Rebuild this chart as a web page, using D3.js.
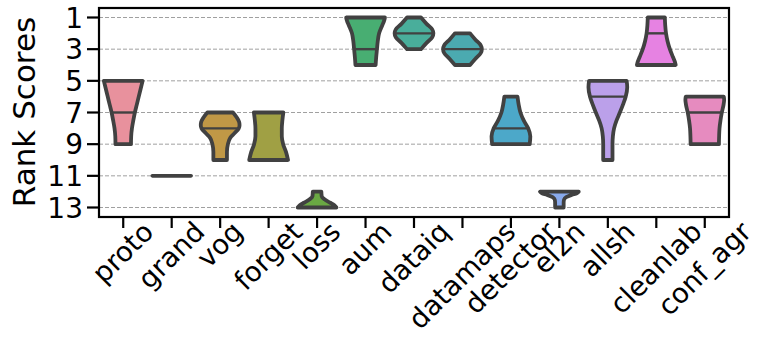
<!DOCTYPE html>
<html>
<head>
<meta charset="utf-8">
<script src="https://cdn.jsdelivr.net/npm/d3@7"></script>
<style>
  html, body { margin: 0; padding: 0; background: #fff; }
  svg { display: block; }
  text { font-family: "DejaVu Sans", sans-serif; fill: #000; }
</style>
</head>
<body>
<svg id="chart" width="761" height="337"></svg>
<script>
// ---- data ----
const categories = ["proto","grand","vog","forget","loss","aum","dataiq","datamaps","detector","el2n","allsh","cleanlab","conf_agr"];
const colors = ["#e8919d","#4a4a4a","#c09846","#a0a044","#6aa843","#48ae72","#49ae9b","#4baab0","#4ca8c9","#89aaec","#bba0ea","#e682e2","#e68bbf"];
const medians = [7, 11, 8, 7, 13, 3, 2, 3, 8, 12, 6, 2, 7];
// density profile of each violin: rank positions and relative widths
const profileRanks = [
  [5, 5.5, 6, 6.5, 7, 7.5, 8, 8.5, 9],
  [11],
  [7, 7.3, 7.6, 7.8, 8, 8.3, 8.6, 9, 9.5, 10],
  [7, 7.5, 8, 8.5, 9, 9.5, 10],
  [12, 12.3, 12.5, 12.7, 12.85, 13],
  [1, 1.2, 1.5, 2, 2.5, 3, 3.5, 4],
  [1, 1.4, 1.75, 2, 2.25, 2.6, 3],
  [2, 2.4, 2.75, 3, 3.25, 3.6, 4],
  [6, 6.5, 7, 7.5, 8, 8.5, 9],
  [12, 12.1, 12.2, 12.35, 12.5, 12.7, 13],
  [5, 5.4, 6, 6.5, 7, 7.5, 8, 8.5, 9, 10],
  [1, 1.5, 2, 2.5, 3, 3.5, 3.8, 4],
  [6, 6.2, 6.5, 7, 7.5, 8, 8.5, 9]
];
const profileWidths = [
  [1.0, 0.9, 0.8, 0.7, 0.6, 0.52, 0.45, 0.41, 0.4],
  [1.0],
  [0.66, 0.85, 0.98, 1.0, 0.96, 0.75, 0.52, 0.4, 0.35, 0.35],
  [0.76, 0.71, 0.68, 0.68, 0.75, 0.9, 1.0],
  [0.22, 0.24, 0.4, 0.68, 0.88, 1.0],
  [1.0, 0.96, 0.86, 0.7, 0.63, 0.59, 0.55, 0.52],
  [0.36, 0.65, 0.94, 1.0, 0.94, 0.65, 0.36],
  [0.39, 0.67, 0.94, 1.0, 0.94, 0.67, 0.39],
  [0.34, 0.4, 0.49, 0.66, 0.89, 1.0, 0.97],
  [1.0, 0.9, 0.65, 0.35, 0.24, 0.22, 0.22],
  [0.97, 1.0, 0.92, 0.78, 0.62, 0.45, 0.32, 0.26, 0.24, 0.24],
  [0.44, 0.46, 0.5, 0.58, 0.7, 0.86, 0.96, 1.0],
  [0.98, 1.0, 0.97, 0.88, 0.81, 0.76, 0.74, 0.73]
];
const yTicks = [1, 3, 5, 7, 9, 11, 13];
const yLabel = "Rank Scores";

// ---- layout ----
const plotL = 99, plotR = 729, plotT = 8, plotB = 217;
const svg = d3.select("#chart");
const x = d3.scaleBand().domain(categories).range([plotL, plotR]).padding(0);
const y = d3.scaleLinear().domain([0.4, 13.6]).range([plotT, plotB]);
const edge = "#414141";
const halfMax = x.bandwidth() * 0.8 / 2;

// grid
svg.append("g").selectAll("line").data(yTicks).join("line")
  .attr("x1", plotL).attr("x2", plotR)
  .attr("y1", d => y(d)).attr("y2", d => y(d))
  .attr("stroke", "#a0a0a0").attr("stroke-width", 1).attr("stroke-dasharray", "4,2");

// violins
const g = svg.append("g");
categories.forEach((c, i) => {
  const cx = x(c) + x.bandwidth() / 2;
  const rs = profileRanks[i], ws = profileWidths[i];
  if (rs.length === 1) {
    g.append("line")
      .attr("x1", cx - halfMax * ws[0]).attr("x2", cx + halfMax * ws[0])
      .attr("y1", y(rs[0])).attr("y2", y(rs[0]))
      .attr("stroke", edge).attr("stroke-width", 3.6).attr("stroke-linecap", "round");
    return;
  }
  const pts = rs.map((r, k) => [r, ws[k]]);
  const area = d3.area()
    .y(d => y(d[0]))
    .x0(d => cx - halfMax * d[1])
    .x1(d => cx + halfMax * d[1])
    .curve(d3.curveMonotoneY);
  g.append("path").attr("d", area(pts))
    .attr("fill", colors[i]).attr("stroke", edge)
    .attr("stroke-width", 3.8).attr("stroke-linejoin", "round");
  // median line
  const m = medians[i];
  const interp = d3.scaleLinear().domain(rs).range(ws).clamp(true);
  const hw = halfMax * interp(m);
  g.append("line")
    .attr("x1", cx - hw).attr("x2", cx + hw)
    .attr("y1", y(m)).attr("y2", y(m))
    .attr("stroke", edge).attr("stroke-width", 2.4);
});

// frame
svg.append("rect").attr("x", plotL).attr("y", plotT)
  .attr("width", plotR - plotL).attr("height", plotB - plotT)
  .attr("fill", "none").attr("stroke", "#000").attr("stroke-width", 2.2);

// y axis ticks & labels
const yAxis = svg.append("g");
yTicks.forEach(t => {
  yAxis.append("line").attr("x1", plotL - 12).attr("x2", plotL)
    .attr("y1", y(t)).attr("y2", y(t)).attr("stroke", "#000").attr("stroke-width", 2.2);
  yAxis.append("text").attr("x", plotL - 16).attr("y", y(t))
    .attr("text-anchor", "end").attr("dy", "0.36em")
    .style("font-size", "28px").text(t);
});

// x axis ticks & labels
const fs = 27.5;
const xAxis = svg.append("g");
categories.forEach(c => {
  const cx = x(c) + x.bandwidth() / 2;
  xAxis.append("line").attr("x1", cx).attr("x2", cx)
    .attr("y1", plotB).attr("y2", plotB + 11).attr("stroke", "#000").attr("stroke-width", 2.2);
  const t = xAxis.append("text").style("font-size", fs + "px")
    .attr("text-anchor", "middle").text(c);
  const w = t.node().getComputedTextLength();
  const h = fs * 1.16;
  const bb = (w + h) / Math.SQRT2;
  const cy = 216 + bb / 2;
  t.attr("transform", `translate(${cx},${cy}) rotate(-45)`).attr("dy", "0.32em");
});

// y label
svg.append("text")
  .attr("transform", `translate(35,112) rotate(-90)`)
  .attr("text-anchor", "middle")
  .style("font-size", "31px").text(yLabel);
</script>
</body>
</html>
